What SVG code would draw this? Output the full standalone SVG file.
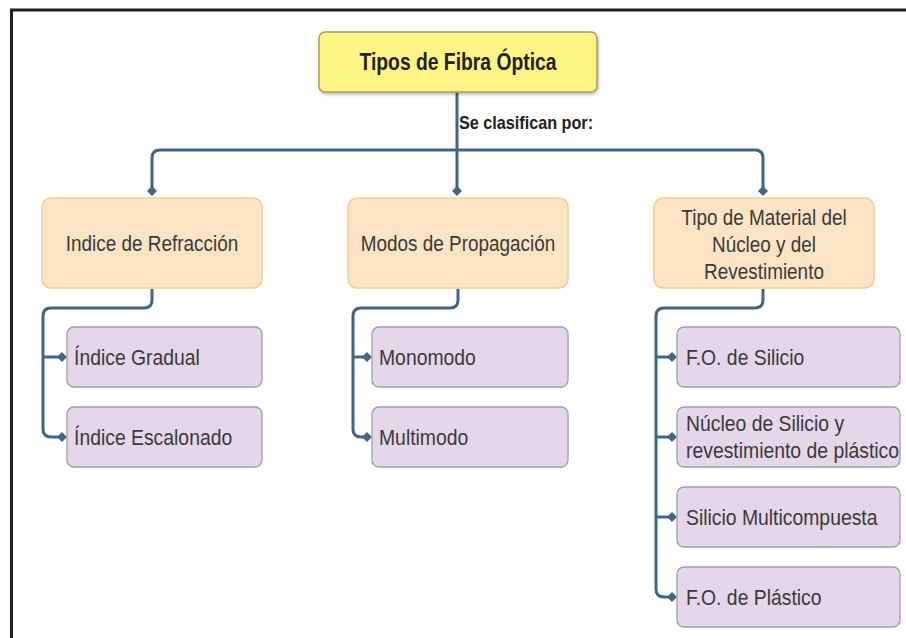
<svg xmlns="http://www.w3.org/2000/svg" width="906" height="638" viewBox="0 0 906 638">
<defs>
<style>
.frame{fill:none;stroke:#1e1e1e;stroke-width:3}
.root{fill:#fff584;stroke:#a99c55;stroke-width:1.5}
.cat{fill:#fde4c4;stroke:#f0cf94;stroke-width:1.5}
.leaf{fill:#e4d7e9;stroke:#a898ab;stroke-width:1.3}
.t{font-family:"Liberation Sans",Arial,sans-serif;font-size:22px;fill:#3a3a3a}
.tb{font-family:"Liberation Sans",Arial,sans-serif;font-weight:bold;fill:#222}
.c{text-anchor:middle}
.conn path{fill:none;stroke:#3f6684;stroke-width:3;stroke-linejoin:round}
</style>
<filter id="sh" x="-10%" y="-10%" width="120%" height="130%">
<feDropShadow dx="1" dy="2" stdDeviation="1.5" flood-color="#000" flood-opacity="0.25"/>
</filter>
<marker id="dia" viewBox="0 0 10 10" refX="5" refY="5" markerWidth="10" markerHeight="10" markerUnits="userSpaceOnUse" orient="auto">
<path d="M0,5 L5,0 L10,5 L5,10 Z" fill="#3f6684"/>
</marker>
</defs>
<rect width="906" height="638" fill="#ffffff"/>
<path class="frame" d="M11.5,638 V10 H906"/>

<g id="connectors" class="conn">
<path d="M457,93 V191" marker-end="url(#dia)"/>
<path d="M457,150 H160 Q152,150 152,158 V191" marker-end="url(#dia)"/>
<path d="M457,150 H755 Q763,150 763,158 V191" marker-end="url(#dia)"/>
<path d="M152,289 V300 Q152,308 144,308 H51 Q43,308 43,316 V429 Q43,437 51,437 H62" marker-end="url(#dia)"/>
<path d="M43,357 H62" marker-end="url(#dia)"/>
<path d="M458,289 V300 Q458,308 450,308 H361 Q353,308 353,316 V429 Q353,437 361,437 H367" marker-end="url(#dia)"/>
<path d="M353,357 H367" marker-end="url(#dia)"/>
<path d="M763,289 V300 Q763,308 755,308 H664 Q656,308 656,316 V589 Q656,597 664,597 H672" marker-end="url(#dia)"/>
<path d="M656,357 H672" marker-end="url(#dia)"/>
<path d="M656,437 H672" marker-end="url(#dia)"/>
<path d="M656,517 H672" marker-end="url(#dia)"/>
</g>

<g id="root">
<rect class="root" x="319" y="32" width="278" height="60" rx="6" filter="url(#sh)"/>
<text class="tb c" font-size="23" transform="translate(458,70) scale(0.84,1)">Tipos de Fibra Óptica</text>
</g>
<g id="label-clasifican">
<text class="tb" font-size="18" transform="translate(459,129) scale(0.9,1)">Se clasifican por:</text>
</g>

<g id="indice-refraccion">
<rect class="cat" x="42" y="198" width="220" height="90" rx="9"/>
<text class="t c" transform="translate(152,251) scale(0.86,1)">Indice de Refracción</text>
</g>
<g id="modos-propagacion">
<rect class="cat" x="348" y="198" width="220" height="90" rx="9"/>
<text class="t c" transform="translate(458,251) scale(0.86,1)">Modos de Propagación</text>
</g>
<g id="tipo-material">
<rect class="cat" x="654" y="198" width="220" height="90" rx="9"/>
<text class="t c" transform="translate(764,225) scale(0.86,1)">Tipo de Material del</text>
<text class="t c" transform="translate(764,252) scale(0.86,1)">Núcleo y del</text>
<text class="t c" transform="translate(764,279) scale(0.86,1)">Revestimiento</text>
</g>

<g id="indice-gradual">
<rect class="leaf" x="67" y="327" width="195" height="60" rx="7"/>
<text class="t" transform="translate(74,365) scale(0.88,1)">Índice Gradual</text>
</g>
<g id="indice-escalonado">
<rect class="leaf" x="67" y="407" width="195" height="60" rx="7"/>
<text class="t" transform="translate(74,445) scale(0.88,1)">Índice Escalonado</text>
</g>
<g id="monomodo">
<rect class="leaf" x="372" y="327" width="196" height="60" rx="7"/>
<text class="t" transform="translate(379,365) scale(0.88,1)">Monomodo</text>
</g>
<g id="multimodo">
<rect class="leaf" x="372" y="407" width="196" height="60" rx="7"/>
<text class="t" transform="translate(379,445) scale(0.88,1)">Multimodo</text>
</g>
<g id="fo-silicio">
<rect class="leaf" x="677" y="327" width="223" height="60" rx="7"/>
<text class="t" transform="translate(686,365) scale(0.88,1)">F.O. de Silicio</text>
</g>
<g id="nucleo-silicio">
<rect class="leaf" x="677" y="407" width="223" height="60" rx="7"/>
<text class="t" transform="translate(686,431) scale(0.88,1)">Núcleo de Silicio y</text>
<text class="t" transform="translate(686,458) scale(0.88,1)">revestimiento de plástico</text>
</g>
<g id="silicio-multicompuesta">
<rect class="leaf" x="677" y="487" width="223" height="60" rx="7"/>
<text class="t" transform="translate(686,525) scale(0.88,1)">Silicio Multicompuesta</text>
</g>
<g id="fo-plastico">
<rect class="leaf" x="677" y="567" width="223" height="60" rx="7"/>
<text class="t" transform="translate(686,605) scale(0.88,1)">F.O. de Plástico</text>
</g>
</svg>
